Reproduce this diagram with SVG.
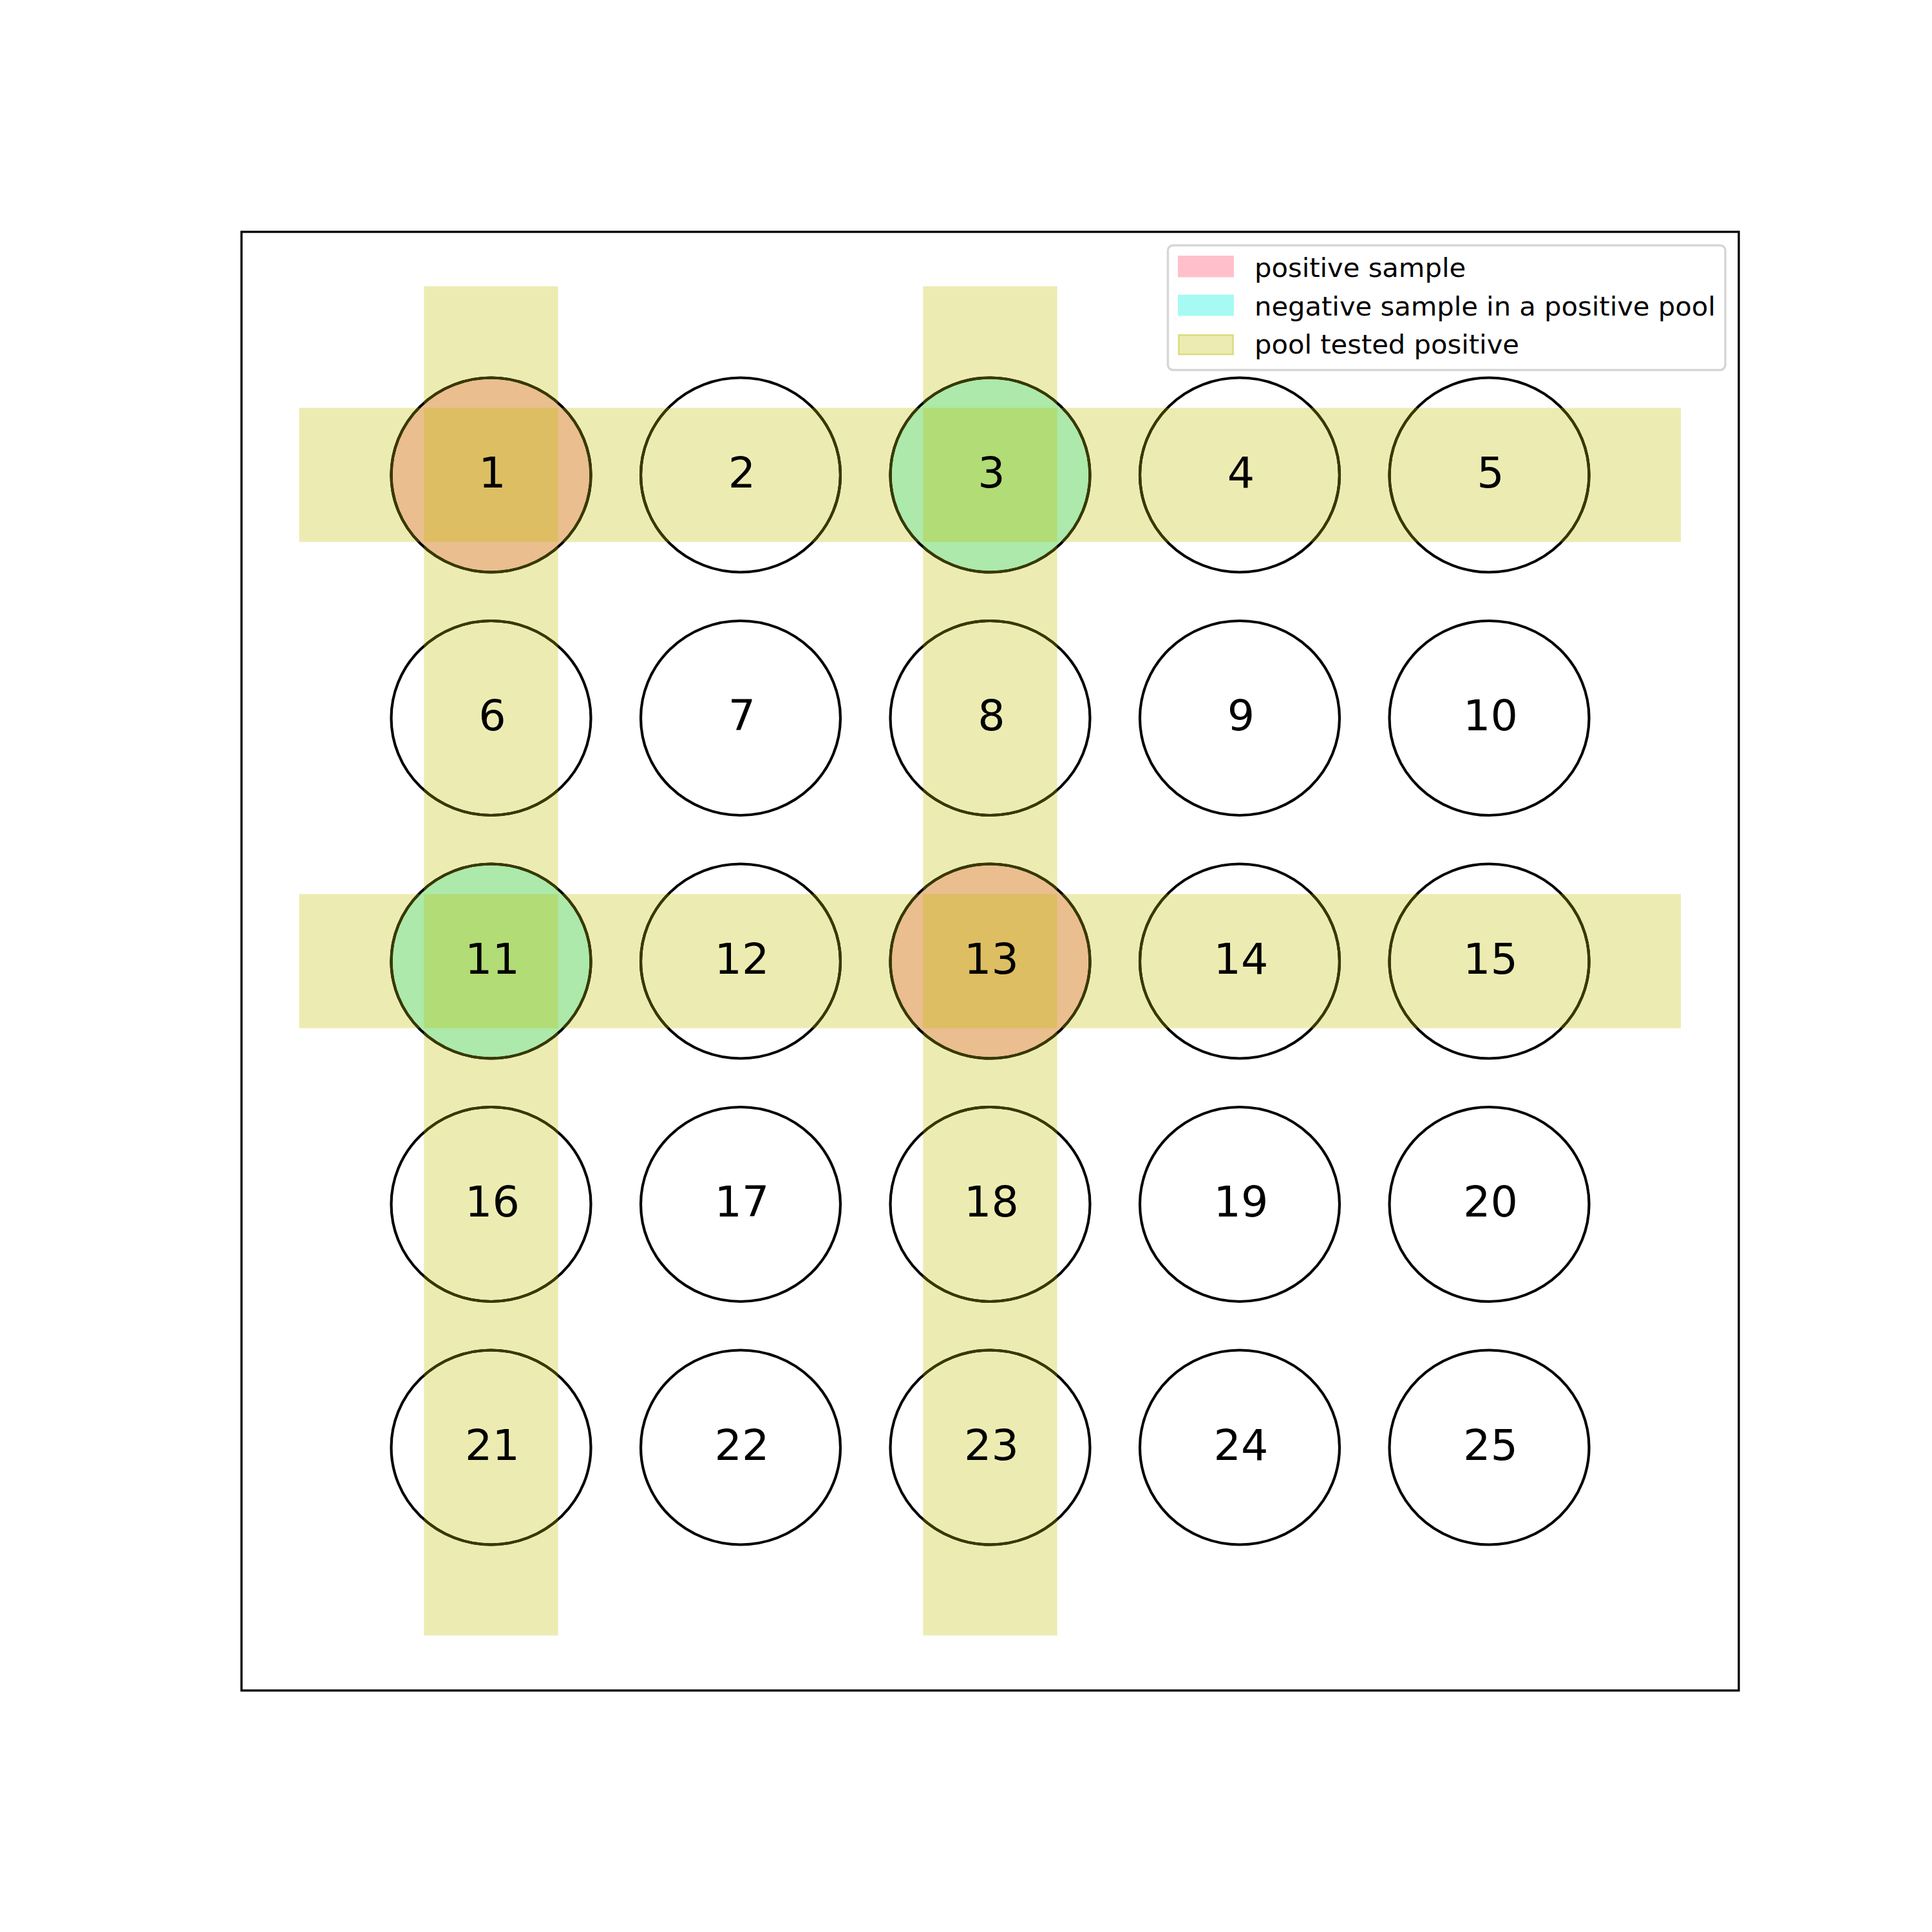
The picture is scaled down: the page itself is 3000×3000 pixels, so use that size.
<svg xmlns="http://www.w3.org/2000/svg" width="3000" height="3000" viewBox="0 0 3000 3000">
<style>
.band{fill:#ECECB2;stroke:none}
.ring{fill:none;stroke:#000000;stroke-width:4.17}
.ringo{fill:none;stroke:#393900;stroke-width:4.17}
.pos{fill:#EABE8F;stroke:none}
.neg{fill:#ACE9AA;stroke:none}
.sq{fill:#BFBF00;fill-opacity:0.3;stroke:none}
.num{font-family:"DejaVu Sans","Liberation Sans",sans-serif;font-size:66.7px;fill:#000000;text-anchor:middle}
.leg{font-family:"DejaVu Sans","Liberation Sans",sans-serif;font-size:41.67px;fill:#000000}
</style>
<defs>
<clipPath id="bandclip">
<rect x="658.3" y="444.5" width="208.3" height="2095"/>
<rect x="1433.3" y="444.5" width="208.3" height="2095"/>
<rect x="464.5" y="633.3" width="2145.5" height="208.3"/>
<rect x="464.5" y="1388.3" width="2145.5" height="208.3"/>
</clipPath>
</defs>
<rect x="0" y="0" width="3000" height="3000" fill="#ffffff"/>
<g id="pools">
<rect class="band" x="658.3" y="444.5" width="208.3" height="2095"/>
<rect class="band" x="1433.3" y="444.5" width="208.3" height="2095"/>
<rect class="band" x="464.5" y="633.3" width="2145.5" height="208.3"/>
<rect class="band" x="464.5" y="1388.3" width="2145.5" height="208.3"/>
</g>
<g id="connectors"></g>
<g id="node1"><ellipse class="pos" cx="762.5" cy="737.5" rx="155" ry="151"/><rect class="sq" x="658.3" y="633.3" width="208.3" height="208.3"/><ellipse class="ring" cx="762.5" cy="737.5" rx="155" ry="151"/><ellipse class="ringo" clip-path="url(#bandclip)" cx="762.5" cy="737.5" rx="155" ry="151"/><text class="num" x="764.5" y="756.5">1</text></g>
<g id="node2"><ellipse class="ring" cx="1150" cy="737.5" rx="155" ry="151"/><ellipse class="ringo" clip-path="url(#bandclip)" cx="1150" cy="737.5" rx="155" ry="151"/><text class="num" x="1152" y="756.5">2</text></g>
<g id="node3"><ellipse class="neg" cx="1537.5" cy="737.5" rx="155" ry="151"/><rect class="sq" x="1433.3" y="633.3" width="208.3" height="208.3"/><ellipse class="ring" cx="1537.5" cy="737.5" rx="155" ry="151"/><ellipse class="ringo" clip-path="url(#bandclip)" cx="1537.5" cy="737.5" rx="155" ry="151"/><text class="num" x="1539.5" y="756.5">3</text></g>
<g id="node4"><ellipse class="ring" cx="1925" cy="737.5" rx="155" ry="151"/><ellipse class="ringo" clip-path="url(#bandclip)" cx="1925" cy="737.5" rx="155" ry="151"/><text class="num" x="1927" y="756.5">4</text></g>
<g id="node5"><ellipse class="ring" cx="2312.5" cy="737.5" rx="155" ry="151"/><ellipse class="ringo" clip-path="url(#bandclip)" cx="2312.5" cy="737.5" rx="155" ry="151"/><text class="num" x="2314.5" y="756.5">5</text></g>
<g id="node6"><ellipse class="ring" cx="762.5" cy="1115" rx="155" ry="151"/><ellipse class="ringo" clip-path="url(#bandclip)" cx="762.5" cy="1115" rx="155" ry="151"/><text class="num" x="764.5" y="1134">6</text></g>
<g id="node7"><ellipse class="ring" cx="1150" cy="1115" rx="155" ry="151"/><text class="num" x="1152" y="1134">7</text></g>
<g id="node8"><ellipse class="ring" cx="1537.5" cy="1115" rx="155" ry="151"/><ellipse class="ringo" clip-path="url(#bandclip)" cx="1537.5" cy="1115" rx="155" ry="151"/><text class="num" x="1539.5" y="1134">8</text></g>
<g id="node9"><ellipse class="ring" cx="1925" cy="1115" rx="155" ry="151"/><text class="num" x="1927" y="1134">9</text></g>
<g id="node10"><ellipse class="ring" cx="2312.5" cy="1115" rx="155" ry="151"/><text class="num" x="2314.5" y="1134">10</text></g>
<g id="node11"><ellipse class="neg" cx="762.5" cy="1492.5" rx="155" ry="151"/><rect class="sq" x="658.3" y="1388.3" width="208.3" height="208.3"/><ellipse class="ring" cx="762.5" cy="1492.5" rx="155" ry="151"/><ellipse class="ringo" clip-path="url(#bandclip)" cx="762.5" cy="1492.5" rx="155" ry="151"/><text class="num" x="764.5" y="1511.5">11</text></g>
<g id="node12"><ellipse class="ring" cx="1150" cy="1492.5" rx="155" ry="151"/><ellipse class="ringo" clip-path="url(#bandclip)" cx="1150" cy="1492.5" rx="155" ry="151"/><text class="num" x="1152" y="1511.5">12</text></g>
<g id="node13"><ellipse class="pos" cx="1537.5" cy="1492.5" rx="155" ry="151"/><rect class="sq" x="1433.3" y="1388.3" width="208.3" height="208.3"/><ellipse class="ring" cx="1537.5" cy="1492.5" rx="155" ry="151"/><ellipse class="ringo" clip-path="url(#bandclip)" cx="1537.5" cy="1492.5" rx="155" ry="151"/><text class="num" x="1539.5" y="1511.5">13</text></g>
<g id="node14"><ellipse class="ring" cx="1925" cy="1492.5" rx="155" ry="151"/><ellipse class="ringo" clip-path="url(#bandclip)" cx="1925" cy="1492.5" rx="155" ry="151"/><text class="num" x="1927" y="1511.5">14</text></g>
<g id="node15"><ellipse class="ring" cx="2312.5" cy="1492.5" rx="155" ry="151"/><ellipse class="ringo" clip-path="url(#bandclip)" cx="2312.5" cy="1492.5" rx="155" ry="151"/><text class="num" x="2314.5" y="1511.5">15</text></g>
<g id="node16"><ellipse class="ring" cx="762.5" cy="1870" rx="155" ry="151"/><ellipse class="ringo" clip-path="url(#bandclip)" cx="762.5" cy="1870" rx="155" ry="151"/><text class="num" x="764.5" y="1889">16</text></g>
<g id="node17"><ellipse class="ring" cx="1150" cy="1870" rx="155" ry="151"/><text class="num" x="1152" y="1889">17</text></g>
<g id="node18"><ellipse class="ring" cx="1537.5" cy="1870" rx="155" ry="151"/><ellipse class="ringo" clip-path="url(#bandclip)" cx="1537.5" cy="1870" rx="155" ry="151"/><text class="num" x="1539.5" y="1889">18</text></g>
<g id="node19"><ellipse class="ring" cx="1925" cy="1870" rx="155" ry="151"/><text class="num" x="1927" y="1889">19</text></g>
<g id="node20"><ellipse class="ring" cx="2312.5" cy="1870" rx="155" ry="151"/><text class="num" x="2314.5" y="1889">20</text></g>
<g id="node21"><ellipse class="ring" cx="762.5" cy="2247.5" rx="155" ry="151"/><ellipse class="ringo" clip-path="url(#bandclip)" cx="762.5" cy="2247.5" rx="155" ry="151"/><text class="num" x="764.5" y="2266.5">21</text></g>
<g id="node22"><ellipse class="ring" cx="1150" cy="2247.5" rx="155" ry="151"/><text class="num" x="1152" y="2266.5">22</text></g>
<g id="node23"><ellipse class="ring" cx="1537.5" cy="2247.5" rx="155" ry="151"/><ellipse class="ringo" clip-path="url(#bandclip)" cx="1537.5" cy="2247.5" rx="155" ry="151"/><text class="num" x="1539.5" y="2266.5">23</text></g>
<g id="node24"><ellipse class="ring" cx="1925" cy="2247.5" rx="155" ry="151"/><text class="num" x="1927" y="2266.5">24</text></g>
<g id="node25"><ellipse class="ring" cx="2312.5" cy="2247.5" rx="155" ry="151"/><text class="num" x="2314.5" y="2266.5">25</text></g>
<rect id="frame" x="375" y="360" width="2325" height="2265" fill="none" stroke="#000000" stroke-width="3.33"/>
<g id="legend">
<rect x="1813.5" y="381" width="865.5" height="193.5" rx="8" ry="8" fill="#ffffff" fill-opacity="0.8" stroke="#d6d6d6" stroke-width="3.5"/>
<rect x="1829" y="397" width="87" height="33.5" fill="#FFC0CB"/>
<rect x="1829" y="457.5" width="87" height="33" fill="#A6FAF3"/>
<rect x="1829" y="519" width="87" height="32.5" fill="#ECECB2"/>
<rect x="1830.5" y="520.5" width="84" height="29.5" fill="none" stroke="#DCDC80" stroke-width="2.5"/>
<text class="leg" x="1948" y="430">positive sample</text>
<text class="leg" x="1948" y="489.5">negative sample in a positive pool</text>
<text class="leg" x="1948" y="549">pool tested positive</text>
</g>
</svg>
